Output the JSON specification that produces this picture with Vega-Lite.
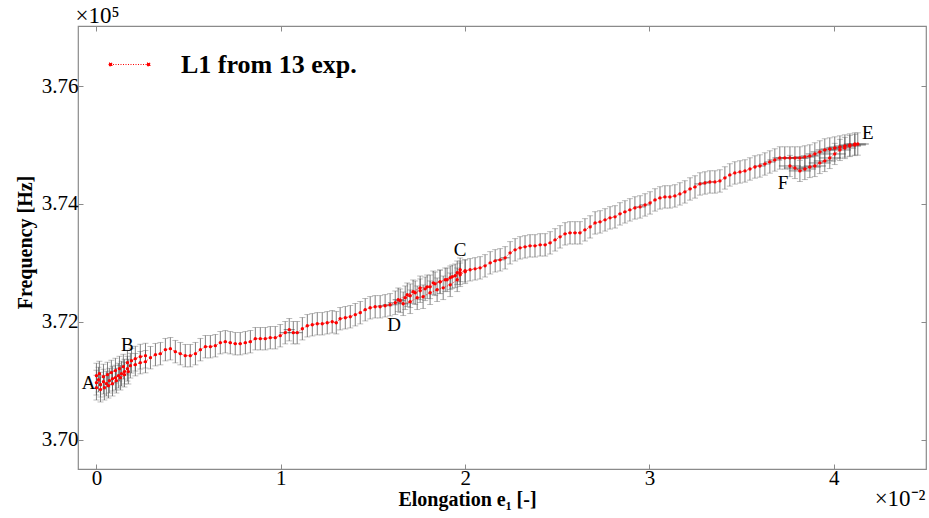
{
  "$schema": "https://vega.github.io/schema/vega-lite/v6.json",
  "width": 848,
  "height": 443,
  "autosize": "none",
  "padding": {"left": 78, "top": 26, "right": 3, "bottom": 49},
  "background": "white",
  "config": {
    "font": "Liberation Serif",
    "view": {"stroke": "#8a8a8a", "strokeWidth": 1.2},
    "axis": {"grid": false, "domain": false, "tickColor": "#8a8a8a", "tickWidth": 1, "labelColor": "black", "titleColor": "black"}
  },
  "datasets": {
    "runs": [
      {"run": 1, "step": 1, "elong": 0.000, "freq": 3.70966, "freq_err": 0.0021, "elong_err": 0.008},
      {"run": 1, "step": 2, "elong": 0.011, "freq": 3.71017, "freq_err": 0.0021, "elong_err": 0.008},
      {"run": 1, "step": 3, "elong": 0.022, "freq": 3.70932, "freq_err": 0.0021, "elong_err": 0.008},
      {"run": 1, "step": 4, "elong": 0.038, "freq": 3.70983, "freq_err": 0.0021, "elong_err": 0.008},
      {"run": 1, "step": 5, "elong": 0.054, "freq": 3.70949, "freq_err": 0.0021, "elong_err": 0.008},
      {"run": 1, "step": 6, "elong": 0.070, "freq": 3.71000, "freq_err": 0.0021, "elong_err": 0.008},
      {"run": 1, "step": 7, "elong": 0.087, "freq": 3.71034, "freq_err": 0.0021, "elong_err": 0.008},
      {"run": 1, "step": 8, "elong": 0.103, "freq": 3.71051, "freq_err": 0.0021, "elong_err": 0.008},
      {"run": 1, "step": 9, "elong": 0.119, "freq": 3.71085, "freq_err": 0.0021, "elong_err": 0.008},
      {"run": 1, "step": 10, "elong": 0.136, "freq": 3.71119, "freq_err": 0.0021, "elong_err": 0.008},
      {"run": 1, "step": 11, "elong": 0.152, "freq": 3.71153, "freq_err": 0.0021, "elong_err": 0.008},
      {"run": 1, "step": 12, "elong": 0.168, "freq": 3.71203, "freq_err": 0.0021, "elong_err": 0.008},
      {"run": 1, "step": 13, "elong": 0.184, "freq": 3.71254, "freq_err": 0.0021, "elong_err": 0.008},
      {"run": 1, "step": 14, "elong": 0.211, "freq": 3.71271, "freq_err": 0.0019, "elong_err": 0.008},
      {"run": 1, "step": 15, "elong": 0.238, "freq": 3.71305, "freq_err": 0.0019, "elong_err": 0.008},
      {"run": 1, "step": 16, "elong": 0.266, "freq": 3.71322, "freq_err": 0.0019, "elong_err": 0.008},
      {"run": 1, "step": 17, "elong": 0.293, "freq": 3.71390, "freq_err": 0.0019, "elong_err": 0.008},
      {"run": 1, "step": 18, "elong": 0.320, "freq": 3.71441, "freq_err": 0.0019, "elong_err": 0.008},
      {"run": 1, "step": 19, "elong": 0.347, "freq": 3.71458, "freq_err": 0.0019, "elong_err": 0.008},
      {"run": 1, "step": 20, "elong": 0.374, "freq": 3.71526, "freq_err": 0.0019, "elong_err": 0.008},
      {"run": 1, "step": 21, "elong": 0.401, "freq": 3.71542, "freq_err": 0.0019, "elong_err": 0.008},
      {"run": 1, "step": 22, "elong": 0.428, "freq": 3.71492, "freq_err": 0.0019, "elong_err": 0.008},
      {"run": 1, "step": 23, "elong": 0.455, "freq": 3.71458, "freq_err": 0.0019, "elong_err": 0.008},
      {"run": 1, "step": 24, "elong": 0.482, "freq": 3.71424, "freq_err": 0.0019, "elong_err": 0.008},
      {"run": 1, "step": 25, "elong": 0.509, "freq": 3.71424, "freq_err": 0.0019, "elong_err": 0.008},
      {"run": 1, "step": 26, "elong": 0.537, "freq": 3.71458, "freq_err": 0.0019, "elong_err": 0.008},
      {"run": 1, "step": 27, "elong": 0.564, "freq": 3.71526, "freq_err": 0.0019, "elong_err": 0.008},
      {"run": 1, "step": 28, "elong": 0.591, "freq": 3.71576, "freq_err": 0.0019, "elong_err": 0.008},
      {"run": 1, "step": 29, "elong": 0.618, "freq": 3.71576, "freq_err": 0.0019, "elong_err": 0.008},
      {"run": 1, "step": 30, "elong": 0.645, "freq": 3.71593, "freq_err": 0.0019, "elong_err": 0.008},
      {"run": 1, "step": 31, "elong": 0.672, "freq": 3.71644, "freq_err": 0.0019, "elong_err": 0.008},
      {"run": 1, "step": 32, "elong": 0.699, "freq": 3.71661, "freq_err": 0.0019, "elong_err": 0.008},
      {"run": 1, "step": 33, "elong": 0.726, "freq": 3.71644, "freq_err": 0.0019, "elong_err": 0.008},
      {"run": 1, "step": 34, "elong": 0.753, "freq": 3.71627, "freq_err": 0.0019, "elong_err": 0.008},
      {"run": 1, "step": 35, "elong": 0.780, "freq": 3.71627, "freq_err": 0.0019, "elong_err": 0.008},
      {"run": 1, "step": 36, "elong": 0.808, "freq": 3.71644, "freq_err": 0.0019, "elong_err": 0.008},
      {"run": 1, "step": 37, "elong": 0.835, "freq": 3.71661, "freq_err": 0.0019, "elong_err": 0.008},
      {"run": 1, "step": 38, "elong": 0.862, "freq": 3.71712, "freq_err": 0.0019, "elong_err": 0.008},
      {"run": 1, "step": 39, "elong": 0.889, "freq": 3.71712, "freq_err": 0.0019, "elong_err": 0.008},
      {"run": 1, "step": 40, "elong": 0.916, "freq": 3.71712, "freq_err": 0.0019, "elong_err": 0.008},
      {"run": 1, "step": 41, "elong": 0.943, "freq": 3.71729, "freq_err": 0.0019, "elong_err": 0.008},
      {"run": 1, "step": 42, "elong": 0.970, "freq": 3.71729, "freq_err": 0.0019, "elong_err": 0.008},
      {"run": 1, "step": 43, "elong": 0.997, "freq": 3.71763, "freq_err": 0.0019, "elong_err": 0.008},
      {"run": 1, "step": 44, "elong": 1.024, "freq": 3.71814, "freq_err": 0.0019, "elong_err": 0.030},
      {"run": 1, "step": 45, "elong": 1.046, "freq": 3.71865, "freq_err": 0.0019, "elong_err": 0.030},
      {"run": 1, "step": 46, "elong": 1.068, "freq": 3.71814, "freq_err": 0.0019, "elong_err": 0.030},
      {"run": 1, "step": 47, "elong": 1.089, "freq": 3.71814, "freq_err": 0.0019, "elong_err": 0.030},
      {"run": 1, "step": 48, "elong": 1.117, "freq": 3.71881, "freq_err": 0.0019, "elong_err": 0.008},
      {"run": 1, "step": 49, "elong": 1.144, "freq": 3.71932, "freq_err": 0.0019, "elong_err": 0.008},
      {"run": 1, "step": 50, "elong": 1.171, "freq": 3.71949, "freq_err": 0.0019, "elong_err": 0.008},
      {"run": 1, "step": 51, "elong": 1.198, "freq": 3.71966, "freq_err": 0.0019, "elong_err": 0.008},
      {"run": 1, "step": 52, "elong": 1.225, "freq": 3.71966, "freq_err": 0.0019, "elong_err": 0.008},
      {"run": 1, "step": 53, "elong": 1.252, "freq": 3.71983, "freq_err": 0.0019, "elong_err": 0.008},
      {"run": 1, "step": 54, "elong": 1.279, "freq": 3.72000, "freq_err": 0.0019, "elong_err": 0.008},
      {"run": 1, "step": 55, "elong": 1.301, "freq": 3.71983, "freq_err": 0.0019, "elong_err": 0.008},
      {"run": 1, "step": 56, "elong": 1.322, "freq": 3.72051, "freq_err": 0.0019, "elong_err": 0.008},
      {"run": 1, "step": 57, "elong": 1.350, "freq": 3.72068, "freq_err": 0.0019, "elong_err": 0.008},
      {"run": 1, "step": 58, "elong": 1.377, "freq": 3.72085, "freq_err": 0.0019, "elong_err": 0.008},
      {"run": 1, "step": 59, "elong": 1.404, "freq": 3.72119, "freq_err": 0.0019, "elong_err": 0.008},
      {"run": 1, "step": 60, "elong": 1.431, "freq": 3.72153, "freq_err": 0.0019, "elong_err": 0.008},
      {"run": 1, "step": 61, "elong": 1.458, "freq": 3.72204, "freq_err": 0.0019, "elong_err": 0.008},
      {"run": 1, "step": 62, "elong": 1.485, "freq": 3.72237, "freq_err": 0.0019, "elong_err": 0.008},
      {"run": 1, "step": 63, "elong": 1.512, "freq": 3.72254, "freq_err": 0.0019, "elong_err": 0.008},
      {"run": 1, "step": 64, "elong": 1.539, "freq": 3.72254, "freq_err": 0.0019, "elong_err": 0.008},
      {"run": 1, "step": 65, "elong": 1.566, "freq": 3.72271, "freq_err": 0.0019, "elong_err": 0.040},
      {"run": 1, "step": 66, "elong": 1.593, "freq": 3.72288, "freq_err": 0.0019, "elong_err": 0.040},
      {"run": 1, "step": 67, "elong": 1.621, "freq": 3.72322, "freq_err": 0.0020, "elong_err": 0.040},
      {"run": 1, "step": 68, "elong": 1.648, "freq": 3.72356, "freq_err": 0.0020, "elong_err": 0.030},
      {"run": 1, "step": 69, "elong": 1.675, "freq": 3.72407, "freq_err": 0.0020, "elong_err": 0.008},
      {"run": 1, "step": 70, "elong": 1.702, "freq": 3.72441, "freq_err": 0.0020, "elong_err": 0.008},
      {"run": 1, "step": 71, "elong": 1.729, "freq": 3.72492, "freq_err": 0.0020, "elong_err": 0.008},
      {"run": 1, "step": 72, "elong": 1.756, "freq": 3.72526, "freq_err": 0.0020, "elong_err": 0.008},
      {"run": 1, "step": 73, "elong": 1.783, "freq": 3.72559, "freq_err": 0.0020, "elong_err": 0.008},
      {"run": 1, "step": 74, "elong": 1.810, "freq": 3.72593, "freq_err": 0.0020, "elong_err": 0.008},
      {"run": 1, "step": 75, "elong": 1.837, "freq": 3.72644, "freq_err": 0.0020, "elong_err": 0.008},
      {"run": 1, "step": 76, "elong": 1.864, "freq": 3.72678, "freq_err": 0.0020, "elong_err": 0.008},
      {"run": 1, "step": 77, "elong": 1.892, "freq": 3.72712, "freq_err": 0.0020, "elong_err": 0.008},
      {"run": 1, "step": 78, "elong": 1.919, "freq": 3.72746, "freq_err": 0.0020, "elong_err": 0.008},
      {"run": 1, "step": 79, "elong": 1.946, "freq": 3.72780, "freq_err": 0.0020, "elong_err": 0.008},
      {"run": 1, "step": 80, "elong": 1.973, "freq": 3.72831, "freq_err": 0.0020, "elong_err": 0.008},
      {"run": 1, "step": 81, "elong": 2.000, "freq": 3.72865, "freq_err": 0.0019, "elong_err": 0.008},
      {"run": 1, "step": 82, "elong": 2.027, "freq": 3.72882, "freq_err": 0.0019, "elong_err": 0.008},
      {"run": 1, "step": 83, "elong": 2.054, "freq": 3.72898, "freq_err": 0.0019, "elong_err": 0.008},
      {"run": 1, "step": 84, "elong": 2.081, "freq": 3.72915, "freq_err": 0.0019, "elong_err": 0.008},
      {"run": 1, "step": 85, "elong": 2.108, "freq": 3.72949, "freq_err": 0.0019, "elong_err": 0.008},
      {"run": 1, "step": 86, "elong": 2.136, "freq": 3.73000, "freq_err": 0.0019, "elong_err": 0.008},
      {"run": 1, "step": 87, "elong": 2.163, "freq": 3.73034, "freq_err": 0.0019, "elong_err": 0.008},
      {"run": 1, "step": 88, "elong": 2.190, "freq": 3.73051, "freq_err": 0.0019, "elong_err": 0.025},
      {"run": 1, "step": 89, "elong": 2.217, "freq": 3.73085, "freq_err": 0.0019, "elong_err": 0.025},
      {"run": 1, "step": 90, "elong": 2.244, "freq": 3.73170, "freq_err": 0.0019, "elong_err": 0.008},
      {"run": 1, "step": 91, "elong": 2.271, "freq": 3.73221, "freq_err": 0.0019, "elong_err": 0.008},
      {"run": 1, "step": 92, "elong": 2.298, "freq": 3.73254, "freq_err": 0.0019, "elong_err": 0.008},
      {"run": 1, "step": 93, "elong": 2.325, "freq": 3.73271, "freq_err": 0.0019, "elong_err": 0.008},
      {"run": 1, "step": 94, "elong": 2.352, "freq": 3.73288, "freq_err": 0.0019, "elong_err": 0.008},
      {"run": 1, "step": 95, "elong": 2.379, "freq": 3.73288, "freq_err": 0.0019, "elong_err": 0.008},
      {"run": 1, "step": 96, "elong": 2.407, "freq": 3.73305, "freq_err": 0.0019, "elong_err": 0.008},
      {"run": 1, "step": 97, "elong": 2.434, "freq": 3.73305, "freq_err": 0.0019, "elong_err": 0.008},
      {"run": 1, "step": 98, "elong": 2.461, "freq": 3.73339, "freq_err": 0.0019, "elong_err": 0.008},
      {"run": 1, "step": 99, "elong": 2.488, "freq": 3.73390, "freq_err": 0.0019, "elong_err": 0.008},
      {"run": 1, "step": 100, "elong": 2.515, "freq": 3.73441, "freq_err": 0.0019, "elong_err": 0.008},
      {"run": 1, "step": 101, "elong": 2.542, "freq": 3.73492, "freq_err": 0.0019, "elong_err": 0.008},
      {"run": 1, "step": 102, "elong": 2.569, "freq": 3.73509, "freq_err": 0.0019, "elong_err": 0.008},
      {"run": 1, "step": 103, "elong": 2.596, "freq": 3.73509, "freq_err": 0.0019, "elong_err": 0.008},
      {"run": 1, "step": 104, "elong": 2.623, "freq": 3.73509, "freq_err": 0.0019, "elong_err": 0.008},
      {"run": 1, "step": 105, "elong": 2.650, "freq": 3.73560, "freq_err": 0.0019, "elong_err": 0.008},
      {"run": 1, "step": 106, "elong": 2.678, "freq": 3.73610, "freq_err": 0.0019, "elong_err": 0.008},
      {"run": 1, "step": 107, "elong": 2.705, "freq": 3.73678, "freq_err": 0.0019, "elong_err": 0.008},
      {"run": 1, "step": 108, "elong": 2.732, "freq": 3.73695, "freq_err": 0.0019, "elong_err": 0.008},
      {"run": 1, "step": 109, "elong": 2.759, "freq": 3.73729, "freq_err": 0.0019, "elong_err": 0.008},
      {"run": 1, "step": 110, "elong": 2.786, "freq": 3.73763, "freq_err": 0.0019, "elong_err": 0.008},
      {"run": 1, "step": 111, "elong": 2.813, "freq": 3.73780, "freq_err": 0.0019, "elong_err": 0.008},
      {"run": 1, "step": 112, "elong": 2.840, "freq": 3.73831, "freq_err": 0.0019, "elong_err": 0.008},
      {"run": 1, "step": 113, "elong": 2.867, "freq": 3.73865, "freq_err": 0.0019, "elong_err": 0.008},
      {"run": 1, "step": 114, "elong": 2.894, "freq": 3.73899, "freq_err": 0.0019, "elong_err": 0.008},
      {"run": 1, "step": 115, "elong": 2.921, "freq": 3.73932, "freq_err": 0.0019, "elong_err": 0.008},
      {"run": 1, "step": 116, "elong": 2.949, "freq": 3.73949, "freq_err": 0.0019, "elong_err": 0.030},
      {"run": 1, "step": 117, "elong": 2.976, "freq": 3.73983, "freq_err": 0.0019, "elong_err": 0.030},
      {"run": 1, "step": 118, "elong": 3.003, "freq": 3.74017, "freq_err": 0.0019, "elong_err": 0.008},
      {"run": 1, "step": 119, "elong": 3.030, "freq": 3.74068, "freq_err": 0.0019, "elong_err": 0.008},
      {"run": 1, "step": 120, "elong": 3.057, "freq": 3.74102, "freq_err": 0.0019, "elong_err": 0.008},
      {"run": 1, "step": 121, "elong": 3.084, "freq": 3.74119, "freq_err": 0.0019, "elong_err": 0.008},
      {"run": 1, "step": 122, "elong": 3.111, "freq": 3.74119, "freq_err": 0.0019, "elong_err": 0.008},
      {"run": 1, "step": 123, "elong": 3.138, "freq": 3.74136, "freq_err": 0.0019, "elong_err": 0.008},
      {"run": 1, "step": 124, "elong": 3.165, "freq": 3.74170, "freq_err": 0.0019, "elong_err": 0.008},
      {"run": 1, "step": 125, "elong": 3.192, "freq": 3.74204, "freq_err": 0.0019, "elong_err": 0.008},
      {"run": 1, "step": 126, "elong": 3.220, "freq": 3.74254, "freq_err": 0.0019, "elong_err": 0.008},
      {"run": 1, "step": 127, "elong": 3.247, "freq": 3.74288, "freq_err": 0.0019, "elong_err": 0.008},
      {"run": 1, "step": 128, "elong": 3.274, "freq": 3.74339, "freq_err": 0.0019, "elong_err": 0.030},
      {"run": 1, "step": 129, "elong": 3.301, "freq": 3.74356, "freq_err": 0.0019, "elong_err": 0.030},
      {"run": 1, "step": 130, "elong": 3.328, "freq": 3.74373, "freq_err": 0.0019, "elong_err": 0.030},
      {"run": 1, "step": 131, "elong": 3.355, "freq": 3.74373, "freq_err": 0.0019, "elong_err": 0.008},
      {"run": 1, "step": 132, "elong": 3.382, "freq": 3.74390, "freq_err": 0.0019, "elong_err": 0.008},
      {"run": 1, "step": 133, "elong": 3.409, "freq": 3.74441, "freq_err": 0.0019, "elong_err": 0.008},
      {"run": 1, "step": 134, "elong": 3.436, "freq": 3.74492, "freq_err": 0.0019, "elong_err": 0.008},
      {"run": 1, "step": 135, "elong": 3.463, "freq": 3.74526, "freq_err": 0.0019, "elong_err": 0.008},
      {"run": 1, "step": 136, "elong": 3.491, "freq": 3.74543, "freq_err": 0.0019, "elong_err": 0.008},
      {"run": 1, "step": 137, "elong": 3.518, "freq": 3.74560, "freq_err": 0.0019, "elong_err": 0.008},
      {"run": 1, "step": 138, "elong": 3.545, "freq": 3.74593, "freq_err": 0.0019, "elong_err": 0.008},
      {"run": 1, "step": 139, "elong": 3.572, "freq": 3.74627, "freq_err": 0.0019, "elong_err": 0.008},
      {"run": 1, "step": 140, "elong": 3.599, "freq": 3.74644, "freq_err": 0.0019, "elong_err": 0.030},
      {"run": 1, "step": 141, "elong": 3.626, "freq": 3.74678, "freq_err": 0.0019, "elong_err": 0.030},
      {"run": 1, "step": 142, "elong": 3.653, "freq": 3.74712, "freq_err": 0.0019, "elong_err": 0.030},
      {"run": 1, "step": 143, "elong": 3.680, "freq": 3.74746, "freq_err": 0.0019, "elong_err": 0.040},
      {"run": 1, "step": 144, "elong": 3.707, "freq": 3.74780, "freq_err": 0.0019, "elong_err": 0.040},
      {"run": 1, "step": 145, "elong": 3.734, "freq": 3.74780, "freq_err": 0.0019, "elong_err": 0.050},
      {"run": 1, "step": 146, "elong": 3.762, "freq": 3.74780, "freq_err": 0.0019, "elong_err": 0.050},
      {"run": 1, "step": 147, "elong": 3.789, "freq": 3.74780, "freq_err": 0.0019, "elong_err": 0.050},
      {"run": 1, "step": 148, "elong": 3.816, "freq": 3.74780, "freq_err": 0.0019, "elong_err": 0.050},
      {"run": 1, "step": 149, "elong": 3.843, "freq": 3.74797, "freq_err": 0.0019, "elong_err": 0.050},
      {"run": 1, "step": 150, "elong": 3.870, "freq": 3.74814, "freq_err": 0.0019, "elong_err": 0.050},
      {"run": 1, "step": 151, "elong": 3.897, "freq": 3.74848, "freq_err": 0.0019, "elong_err": 0.050},
      {"run": 1, "step": 152, "elong": 3.924, "freq": 3.74882, "freq_err": 0.0019, "elong_err": 0.050},
      {"run": 1, "step": 153, "elong": 3.951, "freq": 3.74916, "freq_err": 0.0019, "elong_err": 0.050},
      {"run": 1, "step": 154, "elong": 3.978, "freq": 3.74932, "freq_err": 0.0019, "elong_err": 0.050},
      {"run": 1, "step": 155, "elong": 4.005, "freq": 3.74949, "freq_err": 0.0019, "elong_err": 0.050},
      {"run": 1, "step": 156, "elong": 4.033, "freq": 3.74966, "freq_err": 0.0019, "elong_err": 0.060},
      {"run": 1, "step": 157, "elong": 4.060, "freq": 3.74983, "freq_err": 0.0019, "elong_err": 0.060},
      {"run": 1, "step": 158, "elong": 4.087, "freq": 3.75000, "freq_err": 0.0019, "elong_err": 0.060},
      {"run": 1, "step": 159, "elong": 4.114, "freq": 3.75017, "freq_err": 0.0019, "elong_err": 0.060},
      {"run": 1, "step": 160, "elong": 4.130, "freq": 3.75017, "freq_err": 0.0019, "elong_err": 0.060},
      {"run": 2, "step": 1, "elong": 0.000, "freq": 3.71085, "freq_err": 0.0021, "elong_err": 0.008},
      {"run": 2, "step": 2, "elong": 0.016, "freq": 3.71119, "freq_err": 0.0021, "elong_err": 0.008},
      {"run": 2, "step": 3, "elong": 0.038, "freq": 3.71068, "freq_err": 0.0021, "elong_err": 0.008},
      {"run": 2, "step": 4, "elong": 0.060, "freq": 3.71102, "freq_err": 0.0021, "elong_err": 0.008},
      {"run": 2, "step": 5, "elong": 0.081, "freq": 3.71136, "freq_err": 0.0021, "elong_err": 0.008},
      {"run": 2, "step": 6, "elong": 0.103, "freq": 3.71170, "freq_err": 0.0021, "elong_err": 0.008},
      {"run": 2, "step": 7, "elong": 0.125, "freq": 3.71203, "freq_err": 0.0021, "elong_err": 0.008},
      {"run": 2, "step": 8, "elong": 0.146, "freq": 3.71237, "freq_err": 0.0021, "elong_err": 0.008},
      {"run": 2, "step": 9, "elong": 0.168, "freq": 3.71305, "freq_err": 0.0021, "elong_err": 0.008},
      {"run": 2, "step": 10, "elong": 0.190, "freq": 3.71339, "freq_err": 0.0021, "elong_err": 0.008},
      {"run": 2, "step": 11, "elong": 0.211, "freq": 3.71373, "freq_err": 0.0021, "elong_err": 0.008},
      {"run": 2, "step": 12, "elong": 0.238, "freq": 3.71407, "freq_err": 0.0021, "elong_err": 0.008},
      {"run": 2, "step": 13, "elong": 0.266, "freq": 3.71424, "freq_err": 0.0021, "elong_err": 0.008},
      {"run": 3, "step": 1, "elong": 0.000, "freq": 3.70881, "freq_err": 0.0021, "elong_err": 0.008},
      {"run": 3, "step": 2, "elong": 0.022, "freq": 3.70848, "freq_err": 0.0021, "elong_err": 0.008},
      {"run": 3, "step": 3, "elong": 0.043, "freq": 3.70881, "freq_err": 0.0021, "elong_err": 0.008},
      {"run": 3, "step": 4, "elong": 0.065, "freq": 3.70915, "freq_err": 0.0021, "elong_err": 0.008},
      {"run": 3, "step": 5, "elong": 0.087, "freq": 3.70949, "freq_err": 0.0021, "elong_err": 0.008},
      {"run": 3, "step": 6, "elong": 0.108, "freq": 3.71000, "freq_err": 0.0021, "elong_err": 0.008},
      {"run": 3, "step": 7, "elong": 0.130, "freq": 3.71051, "freq_err": 0.0021, "elong_err": 0.008},
      {"run": 3, "step": 8, "elong": 0.152, "freq": 3.71102, "freq_err": 0.0021, "elong_err": 0.008},
      {"run": 3, "step": 9, "elong": 0.173, "freq": 3.71153, "freq_err": 0.0021, "elong_err": 0.008},
      {"run": 4, "step": 1, "elong": 1.664, "freq": 3.72305, "freq_err": 0.0020, "elong_err": 0.030},
      {"run": 4, "step": 2, "elong": 1.702, "freq": 3.72339, "freq_err": 0.0020, "elong_err": 0.008},
      {"run": 4, "step": 3, "elong": 1.740, "freq": 3.72407, "freq_err": 0.0020, "elong_err": 0.008},
      {"run": 4, "step": 4, "elong": 1.772, "freq": 3.72424, "freq_err": 0.0020, "elong_err": 0.008},
      {"run": 4, "step": 5, "elong": 1.810, "freq": 3.72492, "freq_err": 0.0020, "elong_err": 0.008},
      {"run": 4, "step": 6, "elong": 1.848, "freq": 3.72543, "freq_err": 0.0020, "elong_err": 0.008},
      {"run": 4, "step": 7, "elong": 1.881, "freq": 3.72576, "freq_err": 0.0020, "elong_err": 0.008},
      {"run": 4, "step": 8, "elong": 1.919, "freq": 3.72627, "freq_err": 0.0020, "elong_err": 0.008},
      {"run": 4, "step": 9, "elong": 1.957, "freq": 3.72712, "freq_err": 0.0020, "elong_err": 0.008},
      {"run": 4, "step": 10, "elong": 1.973, "freq": 3.72797, "freq_err": 0.0020, "elong_err": 0.008},
      {"run": 4, "step": 11, "elong": 2.000, "freq": 3.72848, "freq_err": 0.0020, "elong_err": 0.008},
      {"run": 5, "step": 1, "elong": 1.637, "freq": 3.72373, "freq_err": 0.0020, "elong_err": 0.030},
      {"run": 5, "step": 2, "elong": 1.686, "freq": 3.72458, "freq_err": 0.0020, "elong_err": 0.008},
      {"run": 5, "step": 3, "elong": 1.718, "freq": 3.72509, "freq_err": 0.0020, "elong_err": 0.008},
      {"run": 5, "step": 4, "elong": 1.756, "freq": 3.72576, "freq_err": 0.0020, "elong_err": 0.008},
      {"run": 5, "step": 5, "elong": 1.794, "freq": 3.72593, "freq_err": 0.0020, "elong_err": 0.008},
      {"run": 5, "step": 6, "elong": 1.827, "freq": 3.72661, "freq_err": 0.0020, "elong_err": 0.008},
      {"run": 5, "step": 7, "elong": 1.864, "freq": 3.72678, "freq_err": 0.0020, "elong_err": 0.008},
      {"run": 5, "step": 8, "elong": 1.902, "freq": 3.72712, "freq_err": 0.0020, "elong_err": 0.008},
      {"run": 5, "step": 9, "elong": 1.930, "freq": 3.72763, "freq_err": 0.0020, "elong_err": 0.008},
      {"run": 5, "step": 10, "elong": 1.957, "freq": 3.72831, "freq_err": 0.0020, "elong_err": 0.008},
      {"run": 5, "step": 11, "elong": 1.973, "freq": 3.72882, "freq_err": 0.0020, "elong_err": 0.008},
      {"run": 6, "step": 1, "elong": 3.762, "freq": 3.74644, "freq_err": 0.0018, "elong_err": 0.060},
      {"run": 6, "step": 2, "elong": 3.789, "freq": 3.74610, "freq_err": 0.0018, "elong_err": 0.060},
      {"run": 6, "step": 3, "elong": 3.816, "freq": 3.74560, "freq_err": 0.0018, "elong_err": 0.060},
      {"run": 6, "step": 4, "elong": 3.843, "freq": 3.74593, "freq_err": 0.0018, "elong_err": 0.060},
      {"run": 6, "step": 5, "elong": 3.870, "freq": 3.74627, "freq_err": 0.0018, "elong_err": 0.060},
      {"run": 6, "step": 6, "elong": 3.897, "freq": 3.74644, "freq_err": 0.0018, "elong_err": 0.060},
      {"run": 6, "step": 7, "elong": 3.924, "freq": 3.74695, "freq_err": 0.0018, "elong_err": 0.060},
      {"run": 6, "step": 8, "elong": 3.951, "freq": 3.74729, "freq_err": 0.0018, "elong_err": 0.060},
      {"run": 6, "step": 9, "elong": 3.978, "freq": 3.74780, "freq_err": 0.0018, "elong_err": 0.060},
      {"run": 6, "step": 10, "elong": 4.005, "freq": 3.74848, "freq_err": 0.0018, "elong_err": 0.060},
      {"run": 6, "step": 11, "elong": 4.033, "freq": 3.74916, "freq_err": 0.0018, "elong_err": 0.060},
      {"run": 6, "step": 12, "elong": 4.060, "freq": 3.74949, "freq_err": 0.0018, "elong_err": 0.060},
      {"run": 6, "step": 13, "elong": 4.087, "freq": 3.74983, "freq_err": 0.0018, "elong_err": 0.060},
      {"run": 6, "step": 14, "elong": 4.114, "freq": 3.75000, "freq_err": 0.0018, "elong_err": 0.060}
    ],
    "markers": [
      {"name": "A", "elong": -0.043, "freq": 3.70966},
      {"name": "B", "elong": 0.168, "freq": 3.71610},
      {"name": "C", "elong": 1.973, "freq": 3.73221},
      {"name": "D", "elong": 1.615, "freq": 3.71949},
      {"name": "E", "elong": 4.184, "freq": 3.75204},
      {"name": "F", "elong": 3.724, "freq": 3.74356}
    ]
  },
  "layer": [
    {
      "data": {"name": "runs"},
      "mark": {"type": "errorbar", "color": "#555555", "opacity": 0.75, "thickness": 1, "ticks": {"size": 6, "color": "#a8a8a8"}},
      "encoding": {
        "x": {
          "field": "elong", "type": "quantitative",
          "scale": {"domain": [-0.1, 4.5], "nice": false, "zero": false},
          "axis": {
            "orient": "bottom", "values": [0, 1, 2, 3, 4], "format": "d",
            "labelFontSize": 21, "labelPadding": 3, "tickSize": -5,
            "title": "Elongation e₁ [-]", "titleFontSize": 20, "titleFontWeight": "bold",
            "titleX": 389, "titleY": 36, "titleAlign": "center", "titleBaseline": "alphabetic"
          }
        },
        "y": {
          "field": "freq", "type": "quantitative",
          "scale": {"domain": [3.695, 3.7702], "nice": false, "zero": false},
          "axis": {
            "orient": "left", "values": [3.70, 3.72, 3.74, 3.76], "format": ".2f",
            "labelFontSize": 21, "labelPadding": 5, "tickSize": -5,
            "title": "Frequency [Hz]", "titleFontSize": 20, "titleFontWeight": "bold",
            "titleX": -53, "titleY": 216, "titleAngle": -90, "titleAlign": "center", "titleBaseline": "middle"
          }
        },
        "yError": {"field": "freq_err"}
      }
    },
    {
      "data": {"name": "runs"},
      "mark": {"type": "errorbar", "color": "#444444", "opacity": 0.65, "thickness": 1, "ticks": false},
      "encoding": {
        "x": {"field": "elong", "type": "quantitative", "scale": {"domain": [-0.1, 4.5], "nice": false, "zero": false}, "axis": null},
        "y": {"field": "freq", "type": "quantitative", "scale": {"domain": [3.695, 3.7702], "nice": false, "zero": false}, "axis": null},
        "xError": {"field": "elong_err"}
      }
    },
    {
      "data": {"name": "runs"},
      "mark": {"type": "line", "color": "#ff0000", "strokeWidth": 1, "strokeDash": [1, 1.5], "opacity": 0.85},
      "encoding": {
        "x": {
          "field": "elong", "type": "quantitative",
          "scale": {"domain": [-0.1, 4.5], "nice": false, "zero": false},
          "axis": {
            "orient": "top", "values": [0, 1, 2, 3, 4], "labels": false, "tickSize": -5,
            "title": "×10⁵", "titleFontSize": 23, "titleFontWeight": "normal",
            "titleX": -3, "titleY": -4, "titleAlign": "left", "titleBaseline": "alphabetic", "titleAngle": 0
          }
        },
        "y": {
          "field": "freq", "type": "quantitative",
          "scale": {"domain": [3.695, 3.7702], "nice": false, "zero": false},
          "axis": {
            "orient": "right", "values": [3.70, 3.72, 3.74, 3.76], "labels": false, "tickSize": -5,
            "title": "×10⁻²", "titleFontSize": 23, "titleFontWeight": "normal",
            "titleX": -1, "titleY": 479, "titleAlign": "right", "titleBaseline": "alphabetic", "titleAngle": 0
          }
        },
        "detail": {"field": "run", "type": "nominal"},
        "order": {"field": "step", "type": "quantitative"}
      }
    },
    {
      "data": {"name": "runs"},
      "mark": {"type": "point", "filled": true, "size": 11, "opacity": 1, "strokeWidth": 0},
      "encoding": {
        "x": {"field": "elong", "type": "quantitative", "scale": {"domain": [-0.1, 4.5], "nice": false, "zero": false}, "axis": null},
        "y": {"field": "freq", "type": "quantitative", "scale": {"domain": [3.695, 3.7702], "nice": false, "zero": false}, "axis": null},
        "color": {
          "datum": "L1 from 13 exp.", "type": "nominal",
          "scale": {"range": ["#ff0000"]},
          "legend": {
            "orient": "none", "legendX": 32, "legendY": 19, "title": null, "padding": 0,
            "labelFontSize": 26, "labelFontWeight": "bold", "labelOffset": 32, "labelColor": "black", "labelLimit": 0,
            "symbolType": "M-1,0H1M-1.08,-0.08H-0.92V0.08H-1.08ZM0.92,-0.08H1.08V0.08H0.92Z",
            "symbolSize": 1444, "symbolStrokeWidth": 1, "symbolOpacity": 1,
            "encode": {"symbols": {"update": {"fill": {"value": "#ff0000"}, "stroke": {"value": "#ff0000"}, "strokeDash": {"value": [1, 1.5]}, "strokeWidth": {"value": 1}, "opacity": {"value": 1}}}}
          }
        }
      }
    },
    {
      "data": {"name": "markers"},
      "mark": {"type": "text", "fontSize": 19, "align": "center", "baseline": "middle", "color": "black"},
      "encoding": {
        "x": {"field": "elong", "type": "quantitative", "scale": {"domain": [-0.1, 4.5], "nice": false, "zero": false}, "axis": null},
        "y": {"field": "freq", "type": "quantitative", "scale": {"domain": [3.695, 3.7702], "nice": false, "zero": false}, "axis": null},
        "text": {"field": "name"}
      }
    }
  ],
  "resolve": {"axis": {"x": "independent", "y": "independent"}}
}
